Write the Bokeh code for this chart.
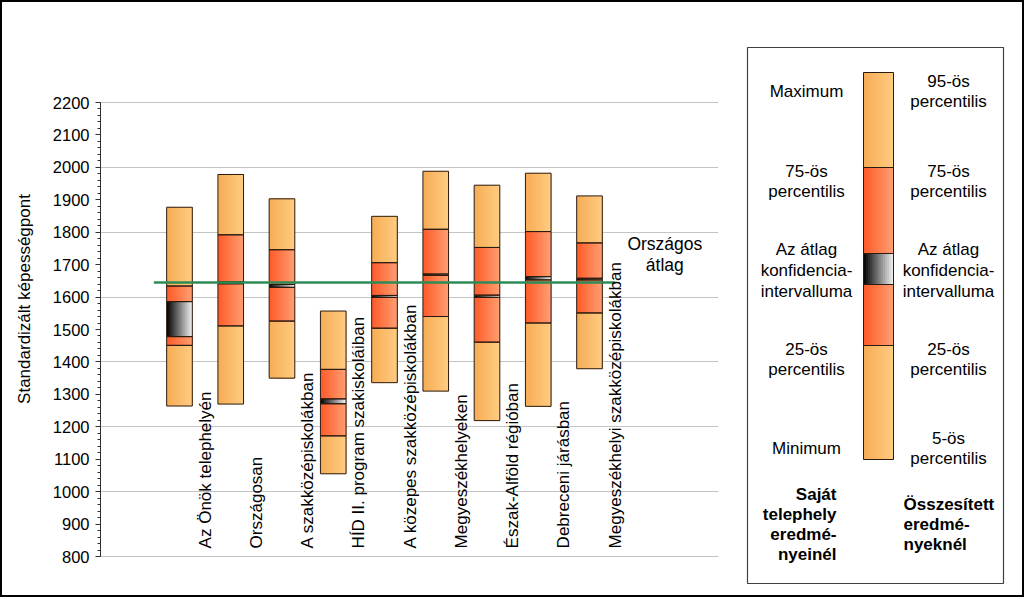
import math
from bokeh.plotting import figure
from bokeh.layouts import row
from bokeh.models import Range1d, SingleIntervalTicker
from bokeh.core.properties import value
from bokeh.embed import file_html
from bokeh.resources import INLINE

# ---------------- data ----------------
categories = [
    "Az Önök telephelyén",
    "Országosan",
    "A szakközépiskolákban",
    "HÍD II. program szakiskoláiban",
    "A közepes szakközépiskolákban",
    "Megyeszékhelyeken",
    "Észak-Alföld régióban",
    "Debreceni járásban",
    "Megyeszékhelyi szakközépiskolákban",
]
low_values = [1264, 1270, 1350, 1055, 1336, 1310, 1219, 1263, 1379]
p25_values = [1451, 1511, 1526, 1172, 1504, 1540, 1461, 1520, 1551]
ci_low_values = [1478, 1641, 1630, 1271, 1599, 1667, 1599, 1653, 1653]
ci_high_values = [1586, 1648, 1639, 1286, 1605, 1671, 1606, 1663, 1658]
p75_values = [1634, 1792, 1746, 1377, 1706, 1809, 1753, 1802, 1767]
high_values = [1877, 1978, 1903, 1557, 1849, 1988, 1945, 1982, 1912]
national_average = 1645
national_label = "Országos\nátlag"
y_title = "Standardizált képességpont"
y_min, y_max = 800, 2200

legend_left_texts = ["Maximum", "75-ös\npercentilis", "Az átlag\nkonfidencia-\nintervalluma",
                     "25-ös\npercentilis", "Minimum"]
legend_right_texts = ["95-ös\npercentilis", "75-ös\npercentilis", "Az átlag\nkonfidencia-\nintervalluma",
                      "25-ös\npercentilis", "5-ös\npercentilis"]
legend_left_title = "Saját\ntelephely\neredmé-\nnyeinél"
legend_right_title = "Összesített\neredmé-\nnyeknél"

# ---------------- style ----------------
FONT = "Liberation Sans"
LIGHT = ("#F6AC55", "#FFCC82")
RED = ("#FF5A28", "#FF9F72")
CIC = ("#000000", "#F4F4F4")
EDGE = "#2a1a10"
GREEN = "#2E8B57"

H = 593                 # inner height (2px border above and below)
TOP_PAD, BOT_PAD = 100, 39
PLOT_H = H - TOP_PAD - BOT_PAD
per_px = (y_max - y_min) / PLOT_H


def hex2rgb(h):
    h = h.lstrip("#")
    return tuple(int(h[i:i + 2], 16) for i in (0, 2, 4))


def lerp(c1, c2, t):
    a, b = hex2rgb(c1), hex2rgb(c2)
    return "#%02x%02x%02x" % tuple(int(round(a[i] + (b[i] - a[i]) * t)) for i in range(3))


def add_gradient(acc, x0, x1, bottom, top, cols, n=14):
    for k in range(n):
        acc["left"].append(x0 + (x1 - x0) * k / n)
        acc["right"].append(x1)
        acc["bottom"].append(bottom)
        acc["top"].append(top)
        acc["color"].append(lerp(cols[0], cols[1], (k + 0.5) / n))


def new_acc():
    return {"left": [], "right": [], "bottom": [], "top": [], "color": []}


# ---------------- main chart ----------------
p = figure(width=740, height=H, x_range=Range1d(-1.541, 10.517),
           y_range=Range1d(y_min - BOT_PAD * per_px, y_max + TOP_PAD * per_px),
           min_border_left=98, min_border_right=24, min_border_top=0, min_border_bottom=0,
           x_axis_type=None, toolbar_location=None, output_backend="svg",
           outline_line_color=None, background_fill_color="white", border_fill_color="white")

p.yaxis.bounds = (y_min, y_max)
p.yaxis.ticker = SingleIntervalTicker(interval=100, num_minor_ticks=5)
p.yaxis.major_tick_out = 5
p.yaxis.major_tick_in = 0
p.yaxis.minor_tick_out = 3
p.yaxis.minor_tick_in = 0
p.yaxis.axis_line_color = "#303030"
p.yaxis.major_tick_line_color = "#303030"
p.yaxis.minor_tick_line_color = "#303030"
p.yaxis.major_label_text_font = FONT
p.yaxis.major_label_text_font_size = "16.5px"
p.yaxis.major_label_text_color = "black"
p.yaxis.major_label_standoff = 6
p.yaxis.axis_label = y_title
p.yaxis.axis_label_text_font = FONT
p.yaxis.axis_label_text_font_size = "17px"
p.yaxis.axis_label_text_font_style = "normal"
p.yaxis.axis_label_text_color = "black"
p.yaxis.axis_label_standoff = 16
p.ygrid.ticker = SingleIntervalTicker(interval=200)
p.ygrid.bounds = (y_min, y_max)
p.ygrid.grid_line_color = "#c4c4c4"
p.ygrid.grid_line_width = 1

half = 0.25
grad = new_acc()
outl = new_acc()
for i in range(len(categories)):
    segs = [
        (low_values[i], p25_values[i], LIGHT),
        (p25_values[i], ci_low_values[i], RED),
        (ci_low_values[i], ci_high_values[i], CIC),
        (ci_high_values[i], p75_values[i], RED),
        (p75_values[i], high_values[i], LIGHT),
    ]
    for b, t, cols in segs:
        add_gradient(grad, i - half, i + half, b, t, cols)
        outl["left"].append(i - half)
        outl["right"].append(i + half)
        outl["bottom"].append(b)
        outl["top"].append(t)

p.quad(left=grad["left"], right=grad["right"], bottom=grad["bottom"], top=grad["top"],
       fill_color=grad["color"], line_color=None)
p.quad(left=outl["left"], right=outl["right"], bottom=outl["bottom"], top=outl["top"],
       fill_alpha=0, line_color=EDGE, line_width=1)

p.line(x=[-0.5, len(categories) - 0.5], y=[national_average, national_average],
       line_color=GREEN, line_width=2.5)

p.text(x=[i + 0.5 for i in range(len(categories))], y=[825] * len(categories), text=categories,
       angle=math.pi / 2, text_align="left", text_baseline="middle",
       text_font=value(FONT), text_font_size="17px", text_color="black")

p.text(x=[9.47], y=[1731], text=[national_label], text_align="center", text_baseline="middle",
       text_font=value(FONT), text_font_size="17.5px", text_color="black", text_line_height=1.05)

# ---------------- legend panel (screen-like coordinates) ----------------
lg = figure(width=280, height=H, x_range=Range1d(742, 1022), y_range=Range1d(595, 2),
            min_border=0, x_axis_type=None, y_axis_type=None, toolbar_location=None,
            output_backend="svg", outline_line_color=None,
            background_fill_color="white", border_fill_color="white")
lg.grid.visible = False

lg.quad(left=[747], right=[1003], top=[47], bottom=[583], fill_color="white",
        line_color="#404040", line_width=1.2)

bounds = [459, 345, 284, 253, 167, 72]
lcols = [LIGHT, RED, CIC, RED, LIGHT]
lgrad = new_acc()
lout = new_acc()
for k in range(5):
    add_gradient(lgrad, 863, 893, bounds[k], bounds[k + 1], lcols[k])
    lout["left"].append(863)
    lout["right"].append(893)
    lout["bottom"].append(bounds[k])
    lout["top"].append(bounds[k + 1])
lg.quad(left=lgrad["left"], right=lgrad["right"], bottom=lgrad["bottom"], top=lgrad["top"],
        fill_color=lgrad["color"], line_color=None)
lg.quad(left=lout["left"], right=lout["right"], bottom=lout["bottom"], top=lout["top"],
        fill_alpha=0, line_color=EDGE, line_width=1)

left_y = [91, 181, 270, 359, 448]
right_y = [91, 181, 270, 359, 448]
lg.text(x=[806] * 5, y=left_y, text=legend_left_texts, text_align="center", text_baseline="middle",
        text_font=value(FONT), text_font_size="17px", text_color="black", text_line_height=1.08)
lg.text(x=[948] * 5, y=right_y, text=legend_right_texts, text_align="center", text_baseline="middle",
        text_font=value(FONT), text_font_size="17px", text_color="black", text_line_height=1.08)
lg.text(x=[836], y=[524], text=[legend_left_title], text_align="right", text_baseline="middle",
        text_font=value(FONT), text_font_size="17px", text_font_style="bold", text_color="black",
        text_line_height=1.06)
lg.text(x=[903], y=[524], text=[legend_right_title], text_align="left", text_baseline="middle",
        text_font=value(FONT), text_font_size="17px", text_font_style="bold", text_color="black",
        text_line_height=1.06)

layout = row(p, lg, styles={"border": "2px solid black", "background-color": "white"})

open("out.html", "w").write(file_html(layout, INLINE))
